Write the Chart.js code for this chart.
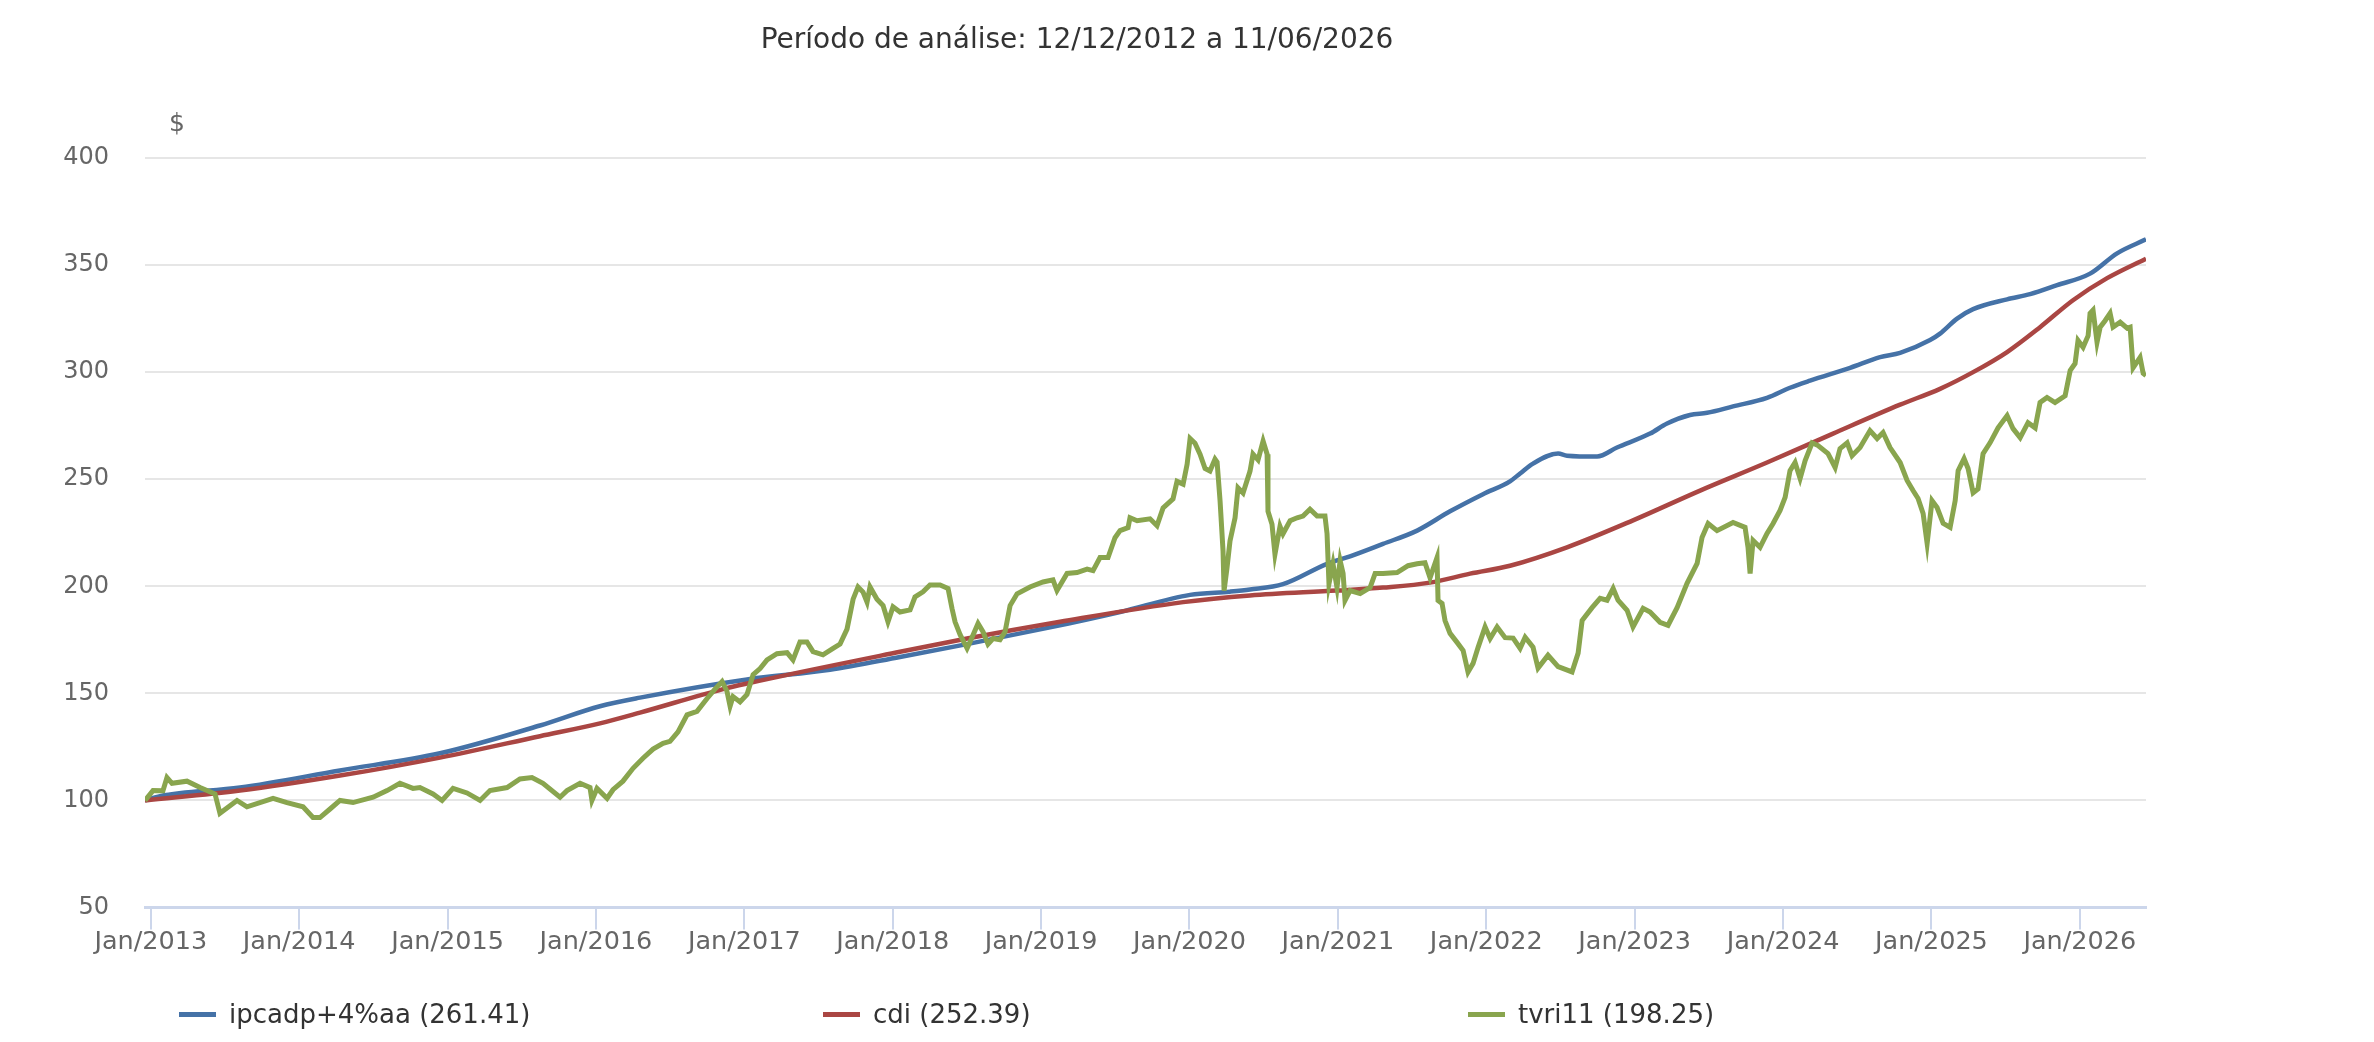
<!DOCTYPE html>
<html>
<head>
<meta charset="utf-8">
<script src="https://cdn.jsdelivr.net/npm/chart.js@4"></script>
<style>
  html, body { margin: 0; padding: 0; background: #ffffff; }
  #wrap { position: absolute; left: 0; top: 0; width: 2154px; height: 1042px; }
</style>
</head>
<body>
<div id="wrap"><canvas id="c" width="2154" height="1042"></canvas></div>
<script>
const titleText = 'Período de análise: 12/12/2012 a 11/06/2026';
const yUnitLabel = '$';
const tickYears = [2013, 2014, 2015, 2016, 2017, 2018, 2019, 2020, 2021, 2022, 2023, 2024, 2025, 2026];
const seriesNames = ['ipcadp+4%aa', 'cdi', 'tvri11'];
const legendValues = ['261.41', '252.39', '198.25'];
const seriesColors = ['#4572A7', '#AA4643', '#89A54E'];

// ipcadp+4%aa
const ipcaYears = [2012.961, 2013.062, 2013.601, 2014.275, 2014.949, 2015.623, 2016.027, 2016.297, 2017.018, 2017.577,
  2018.049, 2018.501, 2019.060, 2019.532, 2020.004, 2020.273, 2020.408, 2020.630, 2020.927, 2021.082,
  2021.304, 2021.534, 2021.756, 2021.978, 2022.160, 2022.228, 2022.315, 2022.484, 2022.544, 2022.747,
  2022.881, 2023.104, 2023.218, 2023.373, 2023.488, 2023.663, 2023.892, 2024.047, 2024.182, 2024.452,
  2024.654, 2024.789, 2024.991, 2025.058, 2025.173, 2025.281, 2025.510, 2025.665, 2025.847, 2026.069,
  2026.251, 2026.446];
const ipcaValues = [100, 102, 106, 114, 122, 135, 144, 148, 156.5, 161,
  167, 173, 180.8, 188, 196, 197.5, 198.5, 201, 210.5, 214,
  219.8, 226, 235, 243, 249, 252.7, 257.3, 262, 261, 260.6,
  264.8, 271.3, 276, 280, 281, 284, 288, 292.7, 296, 302,
  307, 309, 315, 318, 325, 329.4, 334, 336.4, 340.6, 346,
  355.5, 362];

// cdi
const cdiYears = [2012.961, 2013.601, 2014.275, 2014.949, 2015.623, 2016.027, 2016.297, 2016.856, 2017.018, 2018.049,
  2018.501, 2019.128, 2019.957, 2020.408, 2020.994, 2021.304, 2021.621, 2021.891, 2022.160, 2022.544,
  2022.989, 2023.441, 2023.892, 2024.337, 2024.789, 2025.058, 2025.281, 2025.510, 2025.732, 2025.954,
  2026.184, 2026.446];
const cdiValues = [100, 104.6, 111.6, 120, 130, 136, 141, 152, 154.6, 169.4,
  175.6, 183.4, 192.6, 195.7, 198, 199.4, 201.7, 205.9, 209.6, 218.2,
  230.8, 244.7, 257.8, 271.3, 284.8, 292.2, 300, 309.4, 321, 333.6,
  343.9, 353];

// tvri11
const tvriYears = [2012.961, 2013.015, 2013.082, 2013.109, 2013.143, 2013.244, 2013.332, 2013.379, 2013.433, 2013.466,
  2013.581, 2013.648, 2013.824, 2013.918, 2014.026, 2014.093, 2014.140, 2014.208, 2014.275, 2014.363,
  2014.498, 2014.592, 2014.679, 2014.767, 2014.814, 2014.902, 2014.963, 2015.037, 2015.131, 2015.219,
  2015.286, 2015.401, 2015.488, 2015.569, 2015.643, 2015.758, 2015.805, 2015.893, 2015.960, 2015.973,
  2016.007, 2016.075, 2016.115, 2016.182, 2016.250, 2016.317, 2016.385, 2016.452, 2016.499, 2016.553,
  2016.614, 2016.681, 2016.749, 2016.802, 2016.850, 2016.883, 2016.904, 2016.924, 2016.971, 2017.018,
  2017.059, 2017.106, 2017.153, 2017.220, 2017.288, 2017.328, 2017.375, 2017.422, 2017.463, 2017.530,
  2017.598, 2017.645, 2017.692, 2017.733, 2017.766, 2017.800, 2017.827, 2017.847, 2017.894, 2017.935,
  2017.968, 2018.002, 2018.049, 2018.117, 2018.150, 2018.204, 2018.251, 2018.319, 2018.373, 2018.400,
  2018.420, 2018.454, 2018.501, 2018.521, 2018.575, 2018.609, 2018.642, 2018.676, 2018.723, 2018.757,
  2018.791, 2018.838, 2018.925, 2019.013, 2019.080, 2019.107, 2019.175, 2019.242, 2019.310, 2019.350,
  2019.397, 2019.451, 2019.498, 2019.532, 2019.586, 2019.599, 2019.647, 2019.734, 2019.781, 2019.822,
  2019.889, 2019.916, 2019.957, 2019.984, 2020.004, 2020.037, 2020.071, 2020.105, 2020.138, 2020.172,
  2020.186, 2020.206, 2020.226, 2020.233, 2020.253, 2020.273, 2020.307, 2020.327, 2020.361, 2020.408,
  2020.428, 2020.462, 2020.496, 2020.523, 2020.529, 2020.556, 2020.576, 2020.610, 2020.630, 2020.678,
  2020.725, 2020.765, 2020.812, 2020.860, 2020.913, 2020.927, 2020.940, 2020.967, 2020.994, 2021.015,
  2021.035, 2021.048, 2021.082, 2021.150, 2021.217, 2021.251, 2021.304, 2021.399, 2021.473, 2021.534,
  2021.587, 2021.621, 2021.668, 2021.675, 2021.702, 2021.722, 2021.756, 2021.803, 2021.844, 2021.877,
  2021.911, 2021.945, 2021.992, 2022.026, 2022.073, 2022.127, 2022.181, 2022.228, 2022.262, 2022.315,
  2022.349, 2022.416, 2022.484, 2022.578, 2022.619, 2022.646, 2022.713, 2022.767, 2022.814, 2022.855,
  2022.888, 2022.949, 2022.989, 2023.057, 2023.104, 2023.171, 2023.225, 2023.286, 2023.353, 2023.421,
  2023.454, 2023.495, 2023.555, 2023.663, 2023.744, 2023.764, 2023.778, 2023.798, 2023.845, 2023.892,
  2023.933, 2023.980, 2024.014, 2024.047, 2024.081, 2024.115, 2024.149, 2024.196, 2024.236, 2024.303,
  2024.351, 2024.384, 2024.432, 2024.465, 2024.519, 2024.586, 2024.634, 2024.674, 2024.721, 2024.789,
  2024.836, 2024.876, 2024.910, 2024.944, 2024.971, 2025.004, 2025.038, 2025.079, 2025.126, 2025.160,
  2025.180, 2025.220, 2025.247, 2025.281, 2025.314, 2025.348, 2025.395, 2025.449, 2025.510, 2025.550,
  2025.598, 2025.651, 2025.699, 2025.732, 2025.779, 2025.833, 2025.901, 2025.935, 2025.968, 2025.988,
  2026.022, 2026.056, 2026.069, 2026.089, 2026.116, 2026.137, 2026.170, 2026.204, 2026.224, 2026.272,
  2026.319, 2026.339, 2026.359, 2026.406, 2026.427, 2026.446];
const tvriValues = [100, 104.6, 104.5, 110.7, 108, 109, 106, 104.6, 103, 94,
  100, 97, 101, 99, 97, 92, 92, 96, 100, 99,
  101.5, 104.6, 108, 105.6, 106, 103, 100, 105.6, 103.5, 100,
  104.6, 106, 110, 110.7, 108, 101.5, 104.6, 108, 106, 100,
  105.6, 101, 105, 109, 115, 119.7, 124, 126.7, 127.6, 132,
  140, 141.6, 147.6, 152, 155.5, 151, 144, 148.5, 146, 149.5,
  158.7, 161.6, 165.6, 168.5, 169, 165.6, 174, 174, 169.5, 168,
  171, 173, 180, 194, 199.7, 197.3, 192.6, 199.7, 194, 191,
  183.4, 190.4, 188, 189, 195, 197.4, 200.6, 200.6, 199, 189.5,
  183.4, 177.4, 171, 174, 182.6, 178.7, 173, 175.6, 175, 178.7,
  191, 196.5, 199.7, 202, 203, 198, 206, 206.4, 208, 207.3,
  213.4, 213.4, 222.7, 226, 227.4, 232, 230.6, 231.5, 228.3, 236.6,
  240.8, 249, 247.7, 257, 269, 266.8, 261.7, 255, 253.8, 259.4,
  258, 239.9, 216.6, 198, 208.7, 221.2, 232, 246, 243.6, 253.8,
  261.7, 259, 267.8, 261.7, 235, 229, 215, 228, 224.5, 230.6,
  232, 232.8, 236, 232.8, 232.8, 224.5, 201.2, 210.5, 199.4, 212,
  206, 193.4, 198, 196.6, 199.4, 206, 206, 206.4, 209.6, 210.5,
  211, 204, 213.4, 193.4, 192, 184, 178, 173.8, 170, 160,
  164, 171.5, 181, 175.6, 181, 176, 175.8, 171, 176.2, 171.6,
  161.8, 167.8, 162.5, 160, 168.8, 184, 190, 194.4, 193.5, 199,
  193.5, 188.8, 181, 189.7, 188, 183.2, 181.8, 190, 201.4, 210.7,
  222.8, 229.3, 226, 229.8, 227.5, 218.2, 206, 221.4, 218.2, 224.7,
  229.3, 235.4, 241.5, 254, 257.8, 250.3, 258.7, 267, 265.7, 262,
  255.5, 264.3, 267, 261, 264.8, 272.7, 269, 271.8, 264.8, 257.8,
  249.4, 244.7, 241, 234, 220, 240, 236.8, 229.4, 227.5, 240,
  254, 259.6, 255, 243.7, 245.5, 261.9, 267, 274, 279.7, 273.6,
  269.4, 276.4, 274, 285.8, 288.2, 285.8, 289, 300.8, 304, 314.8,
  311.6, 317, 327.5, 329, 314, 321, 324, 327.5, 321, 323.3,
  320.5, 321, 302, 306.9, 299.4, 298.4];

const xMin = 2012.961;
const xMax = 2026.446;
const yMin = 50, yMax = 400, yStep = 50;

const FONT = '"DejaVu Sans", "Liberation Sans", sans-serif';

function pairs(xs, ys) { return xs.map((x, i) => ({ x: x, y: ys[i] })); }

const decorPlugin = {
  id: 'decor',
  afterDraw(chart) {
    const ctx = chart.ctx;
    ctx.save();
    // title
    ctx.fillStyle = '#333333';
    ctx.font = '28px ' + FONT;
    ctx.textAlign = 'center';
    ctx.textBaseline = 'alphabetic';
    ctx.fillText(titleText, chart.width / 2, 48);
    // unit label
    ctx.fillStyle = '#666666';
    ctx.font = '25px ' + FONT;
    ctx.fillText(yUnitLabel, 177, 131);
    // legend
    const swatchX = [179, 823, 1468];
    ctx.font = '26px ' + FONT;
    ctx.textAlign = 'left';
    for (let i = 0; i < seriesNames.length; i++) {
      ctx.strokeStyle = seriesColors[i];
      ctx.lineWidth = 5;
      ctx.beginPath();
      ctx.moveTo(swatchX[i], 1014.5);
      ctx.lineTo(swatchX[i] + 37, 1014.5);
      ctx.stroke();
      ctx.fillStyle = '#333333';
      ctx.fillText(seriesNames[i] + ' (' + legendValues[i] + ')', swatchX[i] + 50, 1023);
    }
    ctx.restore();
  }
};

new Chart(document.getElementById('c'), {
  type: 'line',
  data: {
    datasets: [
      { label: seriesNames[0], data: pairs(ipcaYears, ipcaValues), borderColor: seriesColors[0], borderWidth: 4.5, pointRadius: 0, cubicInterpolationMode: 'monotone', order: 2 },
      { label: seriesNames[1], data: pairs(cdiYears, cdiValues), borderColor: seriesColors[1], borderWidth: 4.5, pointRadius: 0, cubicInterpolationMode: 'monotone', order: 1 },
      { label: seriesNames[2], data: pairs(tvriYears, tvriValues), borderColor: seriesColors[2], borderWidth: 5, pointRadius: 0, tension: 0, order: 0 }
    ]
  },
  options: {
    responsive: false,
    devicePixelRatio: 1,
    animation: false,
    layout: { padding: { top: 158, left: 0, right: 8, bottom: 74.5 } },
    plugins: { legend: { display: false }, title: { display: false }, tooltip: { enabled: false } },
    scales: {
      x: {
        type: 'linear',
        min: xMin,
        max: xMax,
        afterBuildTicks(scale) { scale.ticks = tickYears.map(v => ({ value: v })); },
        afterFit(scale) { scale.height = 60; },
        ticks: {
          autoSkip: false,
          maxRotation: 0,
          minRotation: 0,
          color: '#666666',
          font: { family: FONT, size: 25.5 },
          padding: -2,
          callback: (v) => 'Jan/' + v
        },
        grid: { drawOnChartArea: false, drawTicks: true, tickLength: 22, color: '#ccd6eb', lineWidth: 2 },
        border: { display: true, color: '#ccd6eb', width: 3 }
      },
      y: {
        min: yMin,
        max: yMax,
        afterFit(scale) { scale.width = 145; },
        ticks: { stepSize: yStep, color: '#666666', font: { family: FONT, size: 24 }, padding: 36 },
        grid: { color: '#e6e6e6', lineWidth: 2, drawTicks: false },
        border: { display: false }
      }
    }
  },
  plugins: [decorPlugin]
});
</script>
</body>
</html>
